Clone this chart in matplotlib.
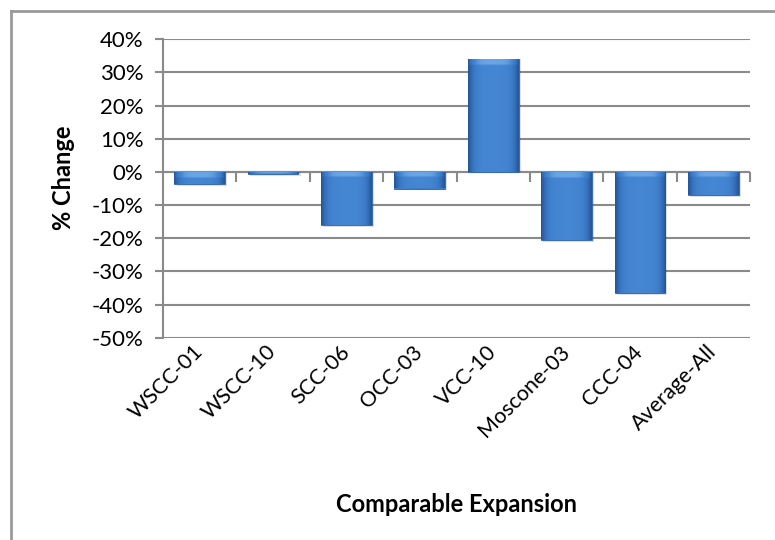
import matplotlib
matplotlib.use("Agg")
import matplotlib.pyplot as plt
import numpy as np
from matplotlib.ticker import FuncFormatter
from matplotlib.colors import LinearSegmentedColormap
from matplotlib.markers import TICKDOWN

categories = ["WSCC-01", "WSCC-10", "SCC-06", "OCC-03", "VCC-10", "Moscone-03", "CCC-04", "Average-All"]
pct_change = [-3.5, -0.5, -16.0, -5.0, 34.0, -20.5, -36.5, -7.0]
y_ticks = [-50, -40, -30, -20, -10, 0, 10, 20, 30, 40]

plt.rcParams['font.family'] = ['Lato', 'DejaVu Sans']

fig = plt.figure(figsize=(7.75, 5.4), dpi=100)
ax = fig.add_axes([163/775, 1-337.7/540, (750-163)/775, (337.7-39.3)/540])

x = np.arange(len(categories))
width = 0.69
grid_col = "#8a8a8a"

# shadow bars
for xi, v in zip(x, pct_change):
    ax.bar(xi + 0.03, v - (0.6 if v < 0 else 0), width=width, bottom=0, color="#000000",
           alpha=0.13, zorder=2, linewidth=0)
bars = ax.bar(x, pct_change, width=width, color="#3C7CC8", zorder=3, linewidth=0.6,
              edgecolor="#2f65a8")

# gradient / bevel shading clipped to each bar
cmap = LinearSegmentedColormap.from_list(
    "b", [(0.0, "#245596"), (0.5, "#3a78c4"), (0.77, "#4586d3"), (1.0, "#6aa5e6")])
cols = np.linspace(-1, 1, 64)
prof = 1 - np.abs(cols) ** 4          # 0 at sides, 1 at centre
for b in bars:
    x0, y0 = b.get_x(), b.get_y()
    w, h = b.get_width(), b.get_height()
    ah = abs(h)
    nrow = 200
    t = np.linspace(0, 1, nrow)[:, None]   # 0 at top
    bev = min(1.6 / max(ah, 1e-6), 0.5)
    top_band = (t < bev).astype(float)
    img = 0.77 * np.tile(prof, (nrow, 1)) + 0.23 * top_band * np.tile(prof, (nrow, 1)) ** 0.3
    im = ax.imshow(img, extent=[x0, x0 + w, min(y0, y0 + h), max(y0, y0 + h)],
                   cmap=cmap, vmin=0, vmax=1, aspect="auto", zorder=3.5,
                   interpolation="bicubic", origin="upper")
    im.set_clip_path(b)

ax.set_xlim(-0.5, len(categories) - 0.5)
ax.set_ylim(-50, 40)
ax.set_yticks(y_ticks)
ax.yaxis.set_major_formatter(FuncFormatter(lambda v, p: f"{int(v)}%"))
ax.grid(axis="y", color=grid_col, linewidth=1.5, zorder=1)
ax.set_axisbelow(True)

for s in ["top", "right", "bottom"]:
    ax.spines[s].set_visible(False)
ax.spines["left"].set_color(grid_col)
ax.spines["left"].set_linewidth(1.5)

ax.tick_params(axis="y", length=6, width=1.5, color=grid_col, labelsize=16, pad=8)
ax.set_xticks(x)
ax.set_xticklabels(categories, rotation=45, ha="right", va="center",
                   rotation_mode="anchor", fontsize=15.5)
ax.tick_params(axis="x", length=0, pad=8)

# zero-line category boundary ticks
bounds = np.arange(0.5, len(categories), 1.0)
ax.axhline(0, color=grid_col, linewidth=1.5, zorder=1.5)
ax.plot(bounds, np.zeros_like(bounds), linestyle="none", marker=TICKDOWN,
        markersize=7, markeredgewidth=1.5, color=grid_col, zorder=1.6, clip_on=False)

ax.set_ylabel("% Change", fontsize=17, fontweight="bold")
ax.yaxis.set_label_coords(-0.170, 0.535)
ax.yaxis.label.set_va("center")
ax.set_xlabel("Comparable Expansion", fontsize=17, fontweight="bold")
ax.xaxis.set_label_coords(0.5, (337.7 - 504) / 298.4)
ax.xaxis.label.set_va("center")

# outer chart frame (top and left visible)
fig.add_artist(plt.Line2D([11/775, 1.0], [1-11/540, 1-11/540], transform=fig.transFigure,
                          color="#9a9a9a", linewidth=2))
fig.add_artist(plt.Line2D([11/775, 11/775], [0, 1-11/540], transform=fig.transFigure,
                          color="#9a9a9a", linewidth=2))

fig.savefig("out.png", dpi=100)
